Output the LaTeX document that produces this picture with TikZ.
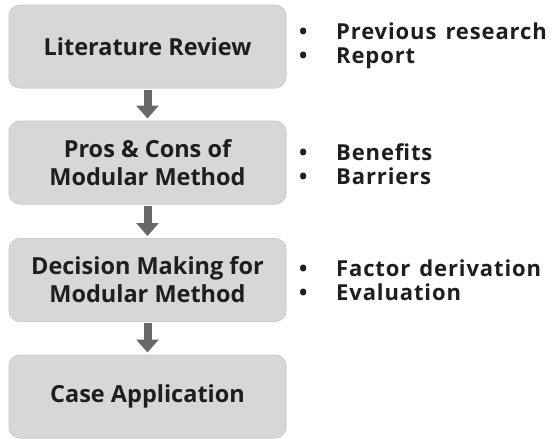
\documentclass[tikz,border=0pt]{standalone}
\usepackage{fontspec}
\setmainfont{Open Sans}
\usetikzlibrary{arrows.meta}
\definecolor{boxfill}{HTML}{D7D7D7}
\definecolor{boxedge}{HTML}{CDCDCD}
\definecolor{arrowgray}{HTML}{686868}
\definecolor{ink}{HTML}{1E1E1E}
\newcommand{\bulletitem}[1]{\makebox[37pt][l]{\textbullet}#1}
\begin{document}
\begin{tikzpicture}[x=1pt,y=-1pt,
  stepbox/.style={draw=boxedge, line width=1pt, fill=boxfill, rounded corners=11pt,
    minimum width=277pt, minimum height=83pt, align=center, text=ink,
    font=\bfseries\fontsize{23.5}{28}\selectfont, inner sep=0pt},
  notes/.style={anchor=west, align=left, text=ink,
    font=\bfseries\fontsize{22}{24.5}\selectfont\addfontfeature{LetterSpace=4}, inner sep=0pt},
  flow/.style={draw=arrowgray, line width=8pt,
    -{Triangle[width=22pt,length=13pt]}, shorten <=1pt, shorten >=2pt}]
\useasboundingbox (0,0) rectangle (558,439);
\node[stepbox] (lit)  at (147.5,46.5)  {Literature Review};
\node[stepbox] (pros) at (147.5,162.5) {Pros \& Cons of\\Modular Method};
\node[stepbox] (dec)  at (147.5,280)   {Decision Making for\\Modular Method};
\node[stepbox] (case) at (147.5,396.5) {Case Application};
\draw[flow] (lit) -- (pros);
\draw[flow] (pros) -- (dec);
\draw[flow] (dec) -- (case);
\node[notes] (n1) at (299,46) {\bulletitem{Previous\hspace{9pt}research}\\\bulletitem{Report}};
\node[notes] (n2) at (299,164) {\bulletitem{Benefits}\\\bulletitem{Barriers}};
\node[notes] (n3) at (299,280) {\bulletitem{Factor\hspace{9pt}derivation}\\\bulletitem{Evaluation}};
\end{tikzpicture}
\end{document}
